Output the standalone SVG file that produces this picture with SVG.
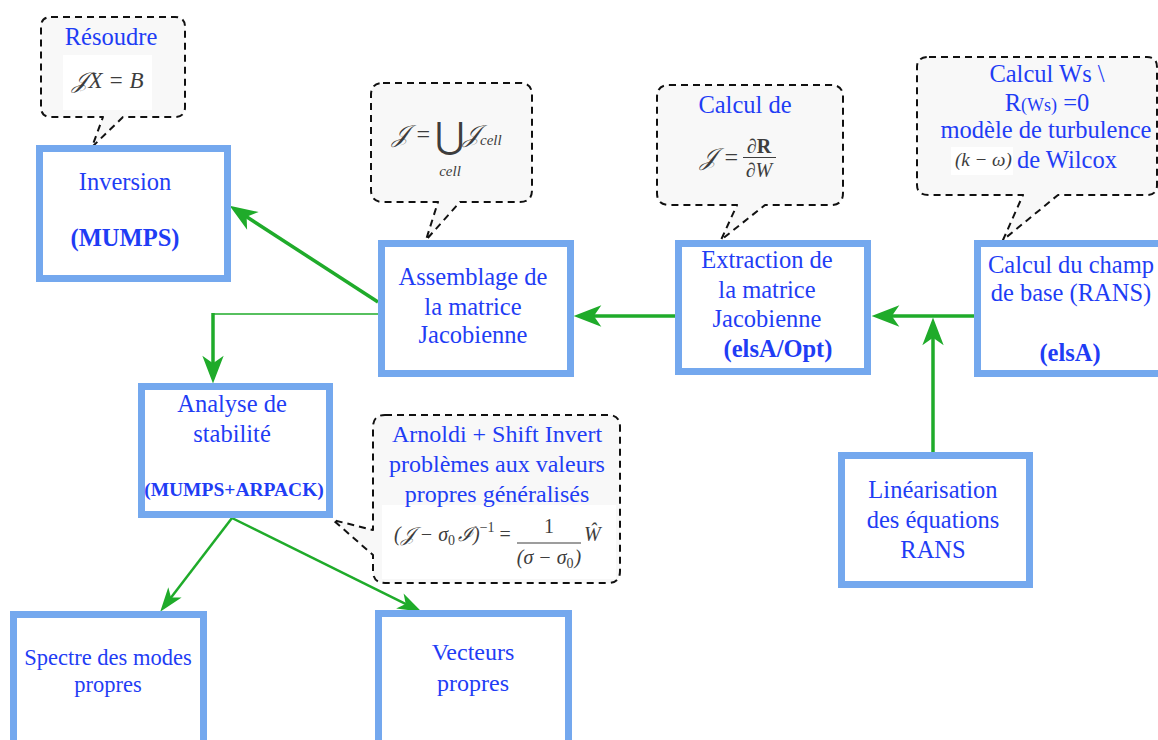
<svg xmlns="http://www.w3.org/2000/svg" width="1158" height="740" viewBox="0 0 1158 740">
<style>
.box{fill:#fff;stroke:#74a8ee;stroke-width:7}
.co{fill:#f8f8f8;stroke:#111;stroke-width:2;stroke-dasharray:7 5;stroke-linejoin:round}
.patch{fill:#fff}
.t{font-family:"Liberation Serif","DejaVu Serif",serif;font-size:24.5px;fill:#1f3df5;text-anchor:middle}
.b{font-weight:bold}
.m{font-family:"Liberation Serif","DejaVu Serif",serif;font-style:italic;fill:#3d3d3d}
.ln{fill:none;stroke:#1fab2a;stroke-width:3.5}
.ln2{fill:none;stroke:#1fab2a;stroke-width:2.5}
.thin{fill:none;stroke:#1fab2a;stroke-width:1.5}
</style>
<defs>
<marker id="ah" viewBox="0 0 30 24" markerWidth="32" markerHeight="26" refX="22" refY="12" orient="auto" markerUnits="userSpaceOnUse">
<path d="M28,12 L2,2 L9,12 L2,22 Z" fill="#1fab2a"/>
</marker>
<marker id="ah2" viewBox="0 0 30 24" markerWidth="28" markerHeight="23" refX="22" refY="12" orient="auto" markerUnits="userSpaceOnUse">
<path d="M28,12 L2,3 L9,12 L2,21 Z" fill="#1fab2a"/>
</marker>
</defs>

<g id="connectors">
<line class="ln" x1="974" y1="316" x2="878" y2="316" marker-end="url(#ah)"/>
<line class="ln" x1="933" y1="452" x2="933" y2="324" marker-end="url(#ah)"/>
<line class="ln" x1="675" y1="316" x2="580" y2="316" marker-end="url(#ah)"/>
<line class="ln" x1="378" y1="302" x2="235" y2="209.3" marker-end="url(#ah)"/>
<line class="thin" x1="382" y1="314" x2="213" y2="314"/>
<line class="ln" x1="213" y1="313" x2="213" y2="377" marker-end="url(#ah)"/>
<line class="ln2" x1="232" y1="518" x2="163.6" y2="607.2" marker-end="url(#ah2)"/>
<line class="ln2" x1="232" y1="518" x2="416.6" y2="609.3" marker-end="url(#ah2)"/>
</g>

<g id="callout-resoudre">
<path class="co" d="M51,17 H175 Q185,17 185,27 V107 Q185,117 175,117 H123 L92,147 L103,117 H51 Q41,117 41,107 V27 Q41,17 51,17 Z"/>
<rect class="patch" x="63" y="55" width="89" height="55"/>
<text class="t" x="111" y="45">Résoudre</text>
<text class="m" x="108" y="88" font-size="23" text-anchor="middle">𝒥X = B</text>
</g>

<g id="callout-assemblage">
<path class="co" d="M383,83 H520 Q532,83 532,95 V190 Q532,202 520,202 H460 L426,240 L438,202 H383 Q371,202 371,190 V95 Q371,83 383,83 Z"/>
<text class="m" x="392" y="142" font-size="24">𝒥 =</text>
<text class="m" x="435" y="148" style="font-size:36px;font-style:normal">⋃</text>
<text class="m" x="463" y="142" font-size="24">𝒥<tspan font-size="15" dy="3">cell</tspan></text>
<text class="m" x="450" y="176" font-size="15" text-anchor="middle">cell</text>
</g>

<g id="callout-extraction">
<path class="co" d="M669,85 H831 Q843,85 843,97 V193 Q843,205 831,205 H765 L721,240 L737,205 H669 Q657,205 657,193 V97 Q657,85 669,85 Z"/>
<text class="t" x="745" y="113">Calcul de</text>
<text class="m" x="700" y="165" font-size="24">𝒥 =</text>
<text class="m" x="759" y="153" font-size="20" text-anchor="middle">∂<tspan font-weight="bold" style="font-style:normal">R</tspan></text>
<line x1="743" y1="157.5" x2="776" y2="157.5" stroke="#3d3d3d" stroke-width="1.2"/>
<text class="m" x="759" y="177" font-size="20" text-anchor="middle">∂W</text>
</g>

<g id="callout-calculws">
<path class="co" d="M929,57 H1147 Q1157,57 1157,67 V185 Q1157,195 1147,195 H1058 L1003,240 L1023,195 H929 Q917,195 917,185 V67 Q917,57 929,57 Z"/>
<rect class="patch" x="951" y="147" width="62" height="28"/>
<text class="t" x="1047" y="82">Calcul Ws \</text>
<text class="t" x="1047" y="111">R<tspan font-size="18">(Ws)</tspan> =0</text>
<text class="t" x="1046" y="138">modèle de turbulence</text>
<text class="m" x="955" y="166" font-size="19">(k − ω)</text>
<text class="t" x="1017" y="168" style="text-anchor:start">de Wilcox</text>
</g>

<g id="callout-arnoldi">
<path class="co" d="M385,415 H608 Q620,415 620,427 V571 Q620,583 608,583 H385 Q373,583 373,571 V555 L333,520 L373,530 V427 Q373,415 385,415 Z"/>
<rect class="patch" x="382" y="505" width="234" height="74"/>
<text class="t" x="497" y="442" style="font-size:24px">Arnoldi + Shift Invert</text>
<text class="t" x="497" y="472" style="font-size:24px">problèmes aux valeurs</text>
<text class="t" x="497" y="502" style="font-size:24px">propres généralisés</text>
<text class="m" x="394" y="541" font-size="20">(𝒥 − σ<tspan font-size="14" dy="4" style="font-style:normal">0</tspan><tspan dx="3" dy="-4">ℐ)</tspan><tspan font-size="14" dy="-9" style="font-style:normal">−1</tspan><tspan dy="9" style="font-style:normal"> =</tspan></text>
<text class="m" x="549" y="533" font-size="20" text-anchor="middle" style="font-style:normal">1</text>
<line x1="517" y1="543" x2="581" y2="543" stroke="#3d3d3d" stroke-width="1.2"/>
<text class="m" x="549" y="564" font-size="20" text-anchor="middle">(σ − σ<tspan font-size="14" dy="4" style="font-style:normal">0</tspan><tspan dx="1" dy="-4">)</tspan></text>
<text class="m" x="584" y="541" font-size="20">Ŵ</text>
</g>

<g id="node-inversion">
<rect class="box" x="39.5" y="148.5" width="188" height="130"/>
<text class="t" x="125" y="190">Inversion</text>
<text class="t b" x="125" y="246">(MUMPS)</text>
</g>

<g id="node-assemblage">
<rect class="box" x="381.5" y="243.5" width="189" height="130"/>
<text class="t" x="473" y="285">Assemblage de</text>
<text class="t" x="473" y="315">la matrice</text>
<text class="t" x="473" y="343">Jacobienne</text>
</g>

<g id="node-extraction">
<rect class="box" x="678.5" y="243.5" width="189" height="128"/>
<text class="t" x="767" y="268">Extraction de</text>
<text class="t" x="767" y="298">la matrice</text>
<text class="t" x="767" y="327">Jacobienne</text>
<text class="t b" x="778" y="357">(elsA/Opt)</text>
</g>

<g id="node-champ">
<rect class="box" x="977.5" y="243.5" width="200" height="130"/>
<text class="t" x="1071" y="273">Calcul du champ</text>
<text class="t" x="1071" y="301">de base (RANS)</text>
<text class="t b" x="1070" y="361">(elsA)</text>
</g>

<g id="node-linearisation">
<rect class="box" x="841.5" y="455.5" width="188" height="129"/>
<text class="t" x="933" y="498">Linéarisation</text>
<text class="t" x="933" y="528">des équations</text>
<text class="t" x="933" y="558">RANS</text>
</g>

<g id="node-analyse">
<rect class="box" x="141.5" y="386.5" width="188" height="128"/>
<text class="t" x="232" y="412">Analyse de</text>
<text class="t" x="232" y="442">stabilité</text>
<text class="t b" x="234" y="496" style="font-size:19.5px">(MUMPS+ARPACK)</text>
</g>

<g id="node-spectre">
<rect class="box" x="13.5" y="614.5" width="190" height="150"/>
<text class="t" x="108" y="665" style="font-size:22.5px">Spectre des modes</text>
<text class="t" x="108" y="692" style="font-size:22.5px">propres</text>
</g>

<g id="node-vecteurs">
<rect class="box" x="378.5" y="613.5" width="190" height="150"/>
<text class="t" x="473" y="660" style="font-size:24px">Vecteurs</text>
<text class="t" x="473" y="691" style="font-size:24px">propres</text>
</g>
</svg>
